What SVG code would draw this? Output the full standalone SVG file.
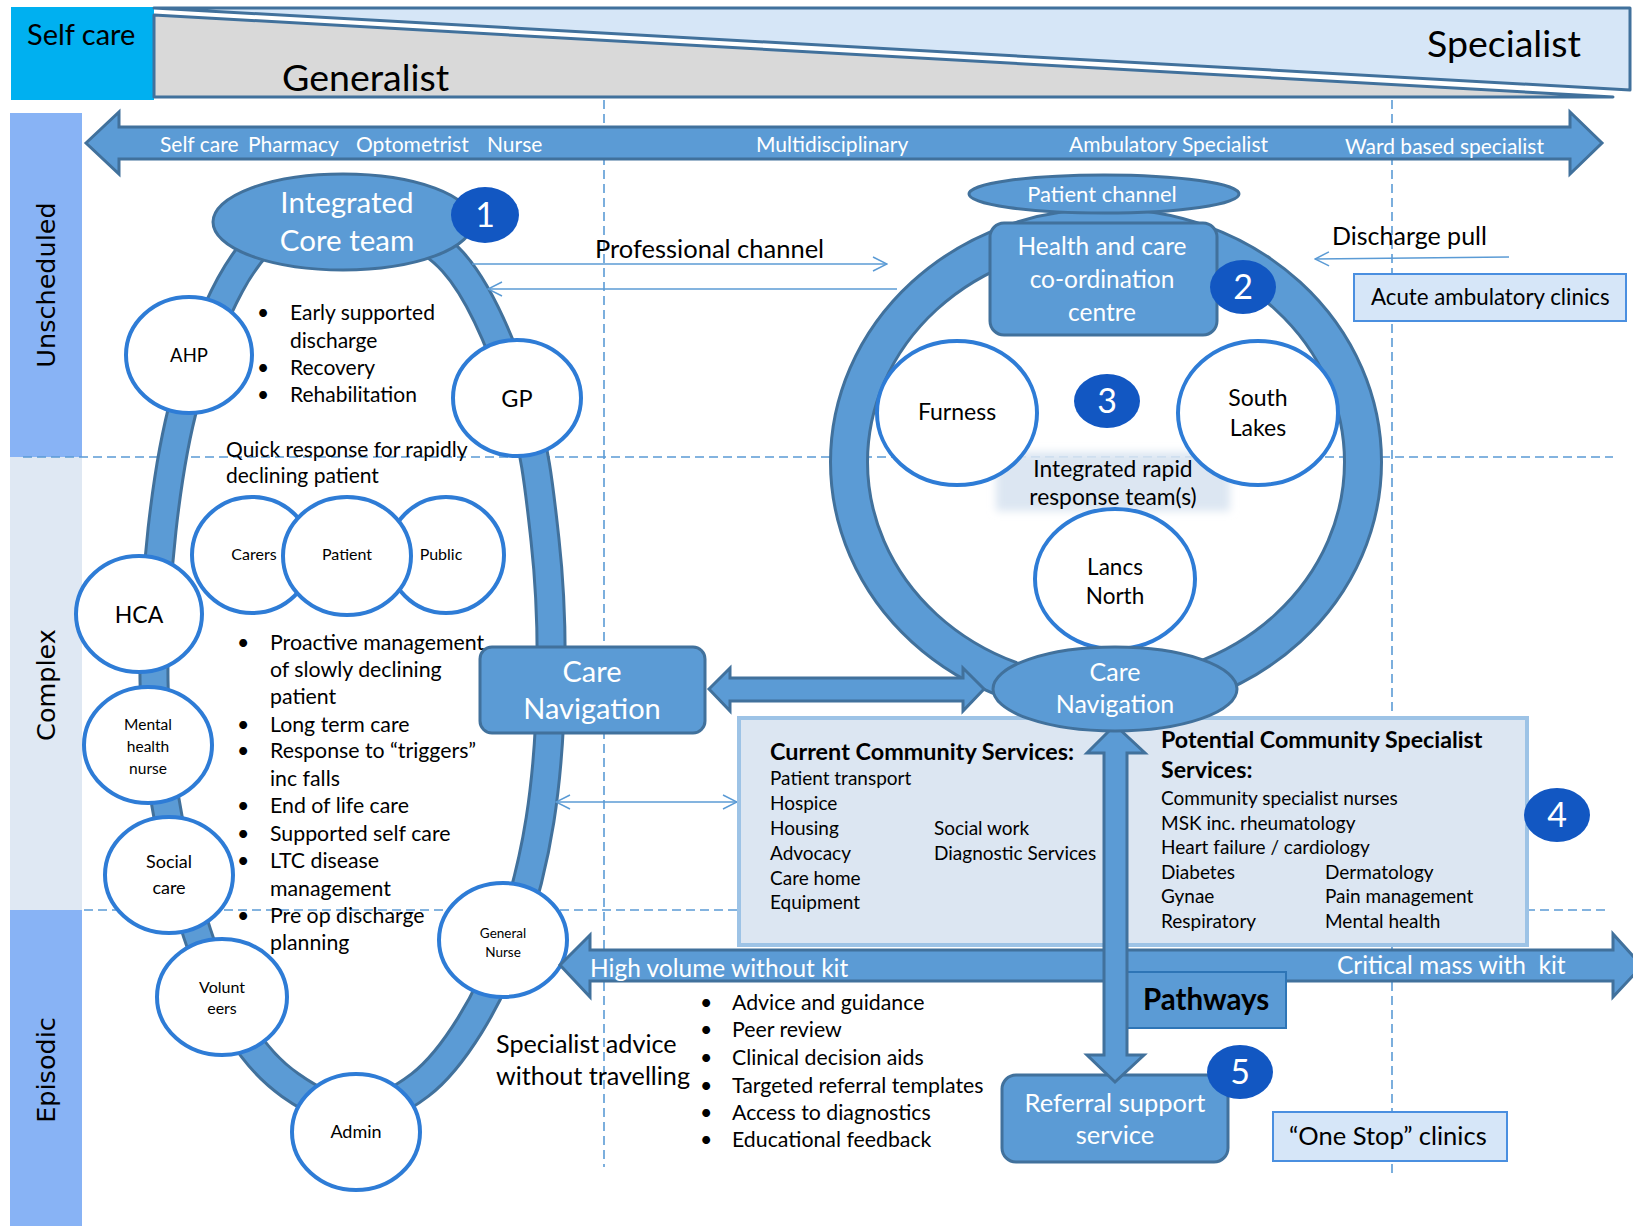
<svg xmlns="http://www.w3.org/2000/svg" width="1633" height="1226" viewBox="0 0 1633 1226">
  <defs>
    <style>
      .t { font-family: Lato, "Liberation Sans", sans-serif; fill: #000; }
      .w { fill: #fff; }
      .b { font-weight: bold; }
      .mid { text-anchor: middle; }
      .band { font-family: "DejaVu Sans", Verdana, sans-serif; font-size: 25.5px; fill: #000; text-anchor: middle; }
      .blue { fill: #5B9BD5; stroke: #41719C; stroke-width: 3; }
      .person { fill: #fff; stroke: #2E7CD6; stroke-width: 4; }
      .badge { fill: #1257C2; }
      .badge-t { font-family: Lato, "Liberation Sans", sans-serif; font-size: 34px; fill: #fff; text-anchor: middle; }
      .thin { stroke: #5B9BD5; stroke-width: 1.5; fill: none; }
      .dash { stroke: #5B9BD5; stroke-width: 1.6; stroke-dasharray: 9 5; fill: none; }
      .clinic { fill: #D6E6F8; stroke: #4A8FE0; stroke-width: 2; }
    </style>
    <marker id="chev" viewBox="0 0 16 16" refX="15" refY="8" markerWidth="16" markerHeight="16" markerUnits="userSpaceOnUse" orient="auto-start-reverse">
      <path d="M1,1 L15,8 L1,15" fill="none" stroke="#5B9BD5" stroke-width="1.5"/>
    </marker>
    <filter id="soft" x="-10%" y="-20%" width="120%" height="140%">
      <feGaussianBlur stdDeviation="4"/>
    </filter>
    <path id="coreLoop" d="M343,205 C371.8,211.2 423.5,229.5 453,262 C482.5,294.5 504.7,353.7 520,400 C535.3,446.3 539.8,493.3 545,540 C550.2,586.7 551.8,633.3 551,680 C550.2,726.7 546.8,776.7 540,820 C533.2,863.3 521.7,905.8 510,940 C498.3,974.2 485,1000.8 470,1025 C455,1049.2 439,1070.5 420,1085 C401,1099.5 377.7,1112 356,1112 C334.3,1112 309.3,1098.7 290,1085 C270.7,1071.3 255.5,1055.3 240,1030 C224.5,1004.7 209.5,971.3 197,933 C184.5,894.7 172.2,842.2 165,800 C157.8,757.8 154.5,725 154,680 C153.5,635 156.8,576.7 162,530 C167.2,483.3 173.7,440.8 185,400 C196.3,359.2 214.2,314.2 230,285 C245.8,255.8 261.2,238.3 280,225 C298.8,211.7 314.2,198.8 343,205 Z"/>
  </defs>

  <rect width="1633" height="1226" fill="#fff"/>

  <!-- Generalist / specialist banner -->
  <g id="banner">
    <rect x="11" y="7" width="143" height="93" fill="#00B0F0"/>
    <polygon points="154,8 1630,8 1630,90" fill="#D6E6F7" stroke="#41719C" stroke-width="3" stroke-linejoin="round"/>
    <polygon points="154,15 1613,97 154,97" fill="#D9D9D9" stroke="#41719C" stroke-width="3" stroke-linejoin="round"/>
    <text class="t" x="27" y="45" font-size="29">Self care</text>
    <text class="t" x="282" y="91" font-size="37.5">Generalist</text>
    <text class="t" x="1427" y="57" font-size="37.5">Specialist</text>
  </g>

  <!-- Care-mode bands down the left edge -->
  <g id="bands">
    <rect x="10" y="113" width="72" height="344" fill="#88B3F5"/>
    <rect x="10" y="457" width="72" height="453" fill="#DFE8F3"/>
    <rect x="10" y="910" width="72" height="316" fill="#88B3F5"/>
    <text class="band" transform="translate(55,285) rotate(-90)">Unscheduled</text>
    <text class="band" transform="translate(55,685) rotate(-90)">Complex</text>
    <text class="band" transform="translate(55,1070) rotate(-90)">Episodic</text>
  </g>

  <!-- Grid lines -->
  <g id="grid">
    <line class="dash" x1="23" y1="457" x2="1613" y2="457"/>
    <line class="dash" x1="84" y1="910" x2="1610" y2="910"/>
    <line class="dash" x1="604" y1="100" x2="604" y2="1167"/>
    <line class="dash" x1="1392" y1="100" x2="1392" y2="1175"/>
  </g>

  <!-- Workforce spectrum arrow -->
  <g id="spectrum">
    <polygon class="blue" stroke-width="2.5" points="86,143 119,112 119,127 1570,127 1570,112 1602,143 1570,174 1570,159 119,159 119,174"/>
    <g class="t w" font-size="21">
      <text x="160" y="152">Self care</text>
      <text x="248" y="152">Pharmacy</text>
      <text x="356" y="152">Optometrist</text>
      <text x="487" y="152">Nurse</text>
      <text x="756" y="152">Multidisciplinary</text>
      <text x="1069" y="152">Ambulatory Specialist</text>
      <text x="1345" y="154">Ward based specialist</text>
    </g>
  </g>

  <!-- Core team ring -->
  <g id="core-ring" fill="none">
    <use href="#coreLoop" stroke="#41719C" stroke-width="31"/>
    <use href="#coreLoop" stroke="#5B9BD5" stroke-width="25"/>
  </g>

  <!-- Locality ring -->
  <g id="locality-ring" fill="none">
    <ellipse cx="1106" cy="462" rx="257" ry="235" stroke="#41719C" stroke-width="40"/>
    <ellipse cx="1106" cy="462" rx="257" ry="235" stroke="#5B9BD5" stroke-width="34"/>
  </g>

  <!-- Connectors -->
  <g id="connectors">
    <line class="thin" x1="472" y1="264" x2="887" y2="264" marker-end="url(#chev)"/>
    <line class="thin" x1="897" y1="289" x2="488" y2="289" marker-end="url(#chev)"/>
    <line class="thin" x1="1509" y1="257" x2="1315" y2="259" marker-end="url(#chev)"/>
    <line class="thin" x1="556" y1="802" x2="737" y2="802" marker-start="url(#chev)" marker-end="url(#chev)"/>
    <polygon class="blue" points="709,689 730,668 730,678 963,678 963,668 984,689 963,711 963,701 730,701 730,711"/>
    <text class="t" x="595" y="258" font-size="25.5">Professional channel</text>
    <text class="t" x="1332" y="245" font-size="25">Discharge pull</text>
  </g>

  <!-- Integrated core team -->
  <g id="core-team">
    <ellipse class="blue" cx="343" cy="222" rx="130" ry="48" stroke-width="3.5"/>
    <text class="t w mid" x="347" y="213" font-size="29.5">Integrated</text>
    <text class="t w mid" x="347" y="251" font-size="29.5">Core team</text>
  </g>
  <g id="badge-1">
    <ellipse class="badge" cx="485" cy="215" rx="34" ry="28"/>
    <text class="badge-t" x="485" y="227">1</text>
  </g>

  <g id="core-text" class="t" font-size="21">
    <text x="257" y="320">•</text><text x="290" y="320">Early supported</text>
    <text x="290" y="348">discharge</text>
    <text x="257" y="375">•</text><text x="290" y="375">Recovery</text>
    <text x="257" y="402">•</text><text x="290" y="402">Rehabilitation</text>
    <text x="226" y="457">Quick response for rapidly</text>
    <text x="226" y="483">declining patient</text>
  </g>

  <!-- Team members -->
  <g id="ahp"><ellipse class="person" cx="189" cy="355" rx="63" ry="58"/><text class="t mid" x="189" y="362" font-size="18.5">AHP</text></g>
  <g id="gp"><ellipse class="person" cx="517" cy="398" rx="64" ry="58"/><text class="t mid" x="517" y="407" font-size="23.5">GP</text></g>
  <g id="carers"><ellipse class="person" cx="252" cy="555" rx="60" ry="58"/><text class="t mid" x="254" y="560" font-size="16">Carers</text></g>
  <g id="public"><ellipse class="person" cx="446" cy="555" rx="58" ry="58"/><text class="t mid" x="441" y="560" font-size="16">Public</text></g>
  <g id="patient"><ellipse class="person" cx="347" cy="556" rx="64" ry="59"/><text class="t mid" x="347" y="560" font-size="16">Patient</text></g>
  <g id="hca"><ellipse class="person" cx="139" cy="614" rx="63" ry="58"/><text class="t mid" x="139" y="623" font-size="23">HCA</text></g>
  <g id="mental-health-nurse"><ellipse class="person" cx="148" cy="745" rx="64" ry="58"/>
    <text class="t mid" x="148" y="730" font-size="15.5">Mental</text>
    <text class="t mid" x="148" y="752" font-size="15.5">health</text>
    <text class="t mid" x="148" y="774" font-size="15.5">nurse</text></g>
  <g id="social-care"><ellipse class="person" cx="169" cy="875" rx="64" ry="58"/>
    <text class="t mid" x="169" y="868" font-size="18">Social</text>
    <text class="t mid" x="169" y="894" font-size="18">care</text></g>
  <g id="general-nurse"><ellipse class="person" cx="503" cy="940" rx="64" ry="57"/>
    <text class="t mid" x="503" y="938" font-size="13.5">General</text>
    <text class="t mid" x="503" y="957" font-size="13.5">Nurse</text></g>
  <g id="volunteers"><ellipse class="person" cx="222" cy="997" rx="65" ry="58"/>
    <text class="t mid" x="222" y="993" font-size="16">Volunt</text>
    <text class="t mid" x="222" y="1014" font-size="16">eers</text></g>
  <g id="admin"><ellipse class="person" cx="356" cy="1132" rx="64" ry="58"/><text class="t mid" x="356" y="1138" font-size="18">Admin</text></g>

  <g id="care-list" class="t" font-size="21.3">
    <text x="237" y="650">•</text><text x="270" y="650">Proactive management</text>
    <text x="270" y="677">of slowly declining</text>
    <text x="270" y="704">patient</text>
    <text x="237" y="732">•</text><text x="270" y="732">Long term care</text>
    <text x="237" y="758">•</text><text x="270" y="758">Response to “triggers”</text>
    <text x="270" y="786">inc falls</text>
    <text x="237" y="813">•</text><text x="270" y="813">End of life care</text>
    <text x="237" y="841">•</text><text x="270" y="841">Supported self care</text>
    <text x="237" y="868">•</text><text x="270" y="868">LTC disease</text>
    <text x="270" y="896">management</text>
    <text x="237" y="923">•</text><text x="270" y="923">Pre op discharge</text>
    <text x="270" y="950">planning</text>
  </g>

  <g id="care-navigation-left">
    <rect class="blue" x="480" y="647" width="225" height="86" rx="12" stroke-width="3.5"/>
    <text class="t w mid" x="592" y="682" font-size="29">Care</text>
    <text class="t w mid" x="592" y="719" font-size="29">Navigation</text>
  </g>

  <!-- Locality ring contents -->
  <g id="patient-channel">
    <ellipse class="blue" cx="1104" cy="194" rx="135" ry="19" stroke-width="3.5"/>
    <text class="t w mid" x="1102" y="202" font-size="22">Patient channel</text>
  </g>
  <g id="coordination-centre">
    <rect class="blue" x="990" y="223" width="227" height="112" rx="14" stroke-width="3.5"/>
    <text class="t w mid" x="1102" y="255" font-size="24.5">Health and care</text>
    <text class="t w mid" x="1102" y="288" font-size="24.5">co-ordination</text>
    <text class="t w mid" x="1102" y="321" font-size="24.5">centre</text>
  </g>
  <g id="badge-2">
    <ellipse class="badge" cx="1243" cy="287" rx="33" ry="27"/>
    <text class="badge-t" x="1243" y="299">2</text>
  </g>

  <rect x="996" y="452" width="234" height="59" fill="#DCE6F2" filter="url(#soft)"/>
  <g id="furness"><ellipse class="person" cx="957" cy="413" rx="80" ry="72"/><text class="t mid" x="957" y="420" font-size="23">Furness</text></g>
  <g id="south-lakes"><ellipse class="person" cx="1258" cy="413" rx="80" ry="72"/>
    <text class="t mid" x="1258" y="406" font-size="23">South</text>
    <text class="t mid" x="1258" y="436" font-size="23">Lakes</text></g>
  <g id="badge-3">
    <ellipse class="badge" cx="1107" cy="401" rx="33" ry="27"/>
    <text class="badge-t" x="1107" y="413">3</text>
  </g>
  <g id="rapid-response" class="t mid" font-size="22.8">
    <text x="1113" y="477">Integrated rapid</text>
    <text x="1113" y="505">response team(s)</text>
  </g>
  <g id="lancs-north"><ellipse class="person" cx="1115" cy="579" rx="80" ry="70"/>
    <text class="t mid" x="1115" y="575" font-size="22.5">Lancs</text>
    <text class="t mid" x="1115" y="604" font-size="22.5">North</text></g>

  <g id="acute-clinics">
    <rect class="clinic" x="1354" y="274" width="272" height="47"/>
    <text class="t" x="1371" y="305" font-size="22.3">Acute ambulatory clinics</text>
  </g>

  <!-- Community services -->
  <g id="community-services">
    <rect x="739" y="718" width="788" height="227" fill="#DCE6F2" stroke="#9DC3E6" stroke-width="4"/>
    <g class="t" font-size="19">
      <text class="b" x="770" y="760" font-size="23.4">Current Community Services:</text>
      <text x="770" y="785">Patient transport</text>
      <text x="770" y="810">Hospice</text>
      <text x="770" y="835">Housing</text>
      <text x="770" y="860">Advocacy</text>
      <text x="770" y="885">Care home</text>
      <text x="770" y="909">Equipment</text>
      <text x="934" y="835">Social work</text>
      <text x="934" y="860">Diagnostic Services</text>
      <text class="b" x="1161" y="748" font-size="23.2">Potential Community Specialist</text>
      <text class="b" x="1161" y="778" font-size="23.2">Services:</text>
      <text x="1161" y="805">Community specialist nurses</text>
      <text x="1161" y="830">MSK inc. rheumatology</text>
      <text x="1161" y="854">Heart failure / cardiology</text>
      <text x="1161" y="879">Diabetes</text>
      <text x="1161" y="903">Gynae</text>
      <text x="1161" y="928">Respiratory</text>
      <text x="1325" y="879">Dermatology</text>
      <text x="1325" y="903">Pain management</text>
      <text x="1325" y="928">Mental health</text>
    </g>
  </g>
  <g id="badge-4">
    <ellipse class="badge" cx="1557" cy="815" rx="33" ry="27"/>
    <text class="badge-t" x="1557" y="827">4</text>
  </g>

  <!-- Volume / kit arrow -->
  <g id="volume-arrow">
    <polygon class="blue" stroke-width="2.5" points="560,965 590,935 590,950 1613,950 1613,934 1642,966 1613,997 1613,981 590,981 590,997"/>
    <text class="t w" x="590" y="977" font-size="24.5">High volume without kit</text>
    <text class="t w" x="1337" y="974" font-size="24.5" xml:space="preserve">Critical mass with  kit</text>
  </g>

  <g id="pathways">
    <rect x="1120" y="972" width="166" height="56" fill="#5B9BD5" stroke="#2E75B6" stroke-width="2"/>
    <text class="t b" x="1143" y="1010" font-size="29.5">Pathways</text>
  </g>

  <g id="referral-support">
    <rect class="blue" x="1002" y="1075" width="226" height="87" rx="14" stroke-width="3.5"/>
    <text class="t w mid" x="1115" y="1112" font-size="25.5">Referral support</text>
    <text class="t w mid" x="1115" y="1144" font-size="25.5">service</text>
  </g>

  <g id="pathway-link">
    <polygon class="blue" points="1115,725 1145,753 1127,753 1127,1055 1144,1055 1115,1082 1087,1055 1104,1055 1104,753 1087,753"/>
  </g>

  <g id="care-navigation-right">
    <ellipse class="blue" cx="1115" cy="689" rx="122" ry="42" stroke-width="3.5"/>
    <text class="t w mid" x="1115" y="681" font-size="25">Care</text>
    <text class="t w mid" x="1115" y="713" font-size="25">Navigation</text>
  </g>

  <g id="badge-5">
    <ellipse class="badge" cx="1240" cy="1072" rx="33" ry="27"/>
    <text class="badge-t" x="1240" y="1084">5</text>
  </g>

  <g id="one-stop">
    <rect class="clinic" x="1273" y="1112" width="234" height="49"/>
    <text class="t" x="1289" y="1145" font-size="25.5">“One Stop” clinics</text>
  </g>

  <g id="advice" class="t">
    <text x="496" y="1053" font-size="25.2">Specialist advice</text>
    <text x="496" y="1085" font-size="25.2">without travelling</text>
    <g font-size="21.3">
      <text x="700" y="1010">•</text><text x="732" y="1010">Advice and guidance</text>
      <text x="700" y="1037">•</text><text x="732" y="1037">Peer review</text>
      <text x="700" y="1065">•</text><text x="732" y="1065">Clinical decision aids</text>
      <text x="700" y="1093">•</text><text x="732" y="1093">Targeted referral templates</text>
      <text x="700" y="1120">•</text><text x="732" y="1120">Access to diagnostics</text>
      <text x="700" y="1147">•</text><text x="732" y="1147">Educational feedback</text>
    </g>
  </g>
</svg>
